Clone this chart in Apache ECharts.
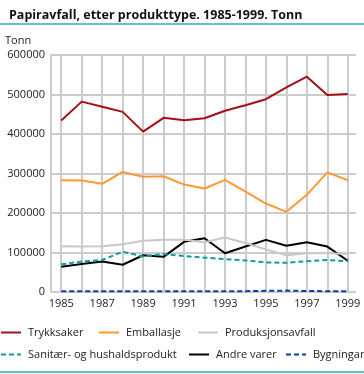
<!DOCTYPE html>
<html><head><meta charset="utf-8">
<script src="https://cdn.jsdelivr.net/npm/echarts@6/dist/echarts.min.js"></script>
<style>html,body{margin:0;padding:0;background:#fff}#c{width:364px;height:374px}</style>
</head><body><div id="c"></div>
<script>
var years = [1985,1986,1987,1988,1989,1990,1991,1992,1993,1994,1995,1996,1997,1998,1999];
var yearLabels = [1985,1987,1989,1991,1993,1995,1997,1999];
var yTicks = [0,100000,200000,300000,400000,500000,600000];
var trykksaker = [434000,482000,469000,456000,406000,441000,435000,440000,459000,473000,488000,518000,545000,499000,501000];
var emballasje = [283000,282000,274000,304000,292000,293000,272000,262000,284000,254000,224000,203000,246000,303000,283000];
var produksjon = [116000,115000,116000,121000,130000,132000,132000,126000,138000,124000,108000,93000,98000,98000,96000];
var sanitaer = [70000,77000,81000,102000,90000,96000,91000,87000,83000,80000,75000,74000,78000,81000,78000];
var andre = [64000,71000,77000,69000,93000,89000,127000,136000,98000,115000,132000,117000,126000,115000,79000];
var bygningar = [2000,2000,2000,2000,2000,2000,2000,2000,2000,2000,3000,3500,2500,2000,2000];
var names = ['Trykksaker','Emballasje','Produksjonsavfall','Sanitær- og hushaldsprodukt','Andre varer','Bygningar'];
var colors = ['#a50f15','#ff9933','#c8c8c8','#109c9c','#000000','#0a3fa8'];
var dashed = [false,false,false,true,false,true];
var values = [trykksaker,emballasje,produksjon,sanitaer,andre,bygningar];

var FONT = 'Open Sans';
function pairs(v){ return v.map(function(y,i){ return [years[i], y]; }); }
var series = values.map(function(v,i){
  return {name:names[i], type:'line', data:pairs(v), symbol:'none', smooth:false,
    lineStyle:{color:colors[i], width:2, type: dashed[i] ? [5,3] : 'solid'},
    itemStyle:{color:colors[i]}, z: 10 - i};
});
var legendPos = [[0,327],[98,327],[197,327],[0,349],[188,349],[285,349]];
var legends = names.map(function(n,i){
  return {data:[n], left:legendPos[i][0], top:legendPos[i][1], itemWidth:20, itemHeight:10, itemGap:0,
    padding:0, selectedMode:false, itemStyle:{opacity:0}, lineStyle:{width:2},
    textStyle:{fontFamily:FONT, fontSize:11, color:'#222', padding:[0,0,0,2]}};
});
var chart = echarts.init(document.getElementById('c'), null, {renderer:'canvas'});
chart.setOption({
  animation:false,
  color:colors,
  title:{text:'Papiravfall, etter produkttype. 1985-1999. Tonn', left:4, top:4,
    textStyle:{fontFamily:FONT, fontSize:12.5, fontWeight:'bold', color:'#111'}},
  graphic:[
    {type:'rect', shape:{x:0,y:23,width:364,height:2}, style:{fill:'#5fc4c2'}},
    {type:'rect', shape:{x:0,y:371,width:364,height:2}, style:{fill:'#5fc4c2'}},
    {type:'text', left:5, top:35, style:{text:'Tonn', font:'11px "Open Sans"', fill:'#222'}}
  ],
  legend:legends,
  grid:{left:51, right:8, top:55, bottom:82, containLabel:false},
  xAxis:{type:'value', min:1984.5, max:1999.4,
    axisLine:{show:false},
    axisTick:{show:false, customValues:years},
    axisLabel:{customValues:yearLabels, fontFamily:FONT, fontSize:11, color:'#222', margin:6,
      formatter:function(v){return String(v);}},
    splitLine:{show:true, lineStyle:{color:'#cccccc', width:2}}},
  yAxis:{type:'value', min:0, max:600000, interval:100000,
    axisLine:{show:true, lineStyle:{color:'#cccccc', width:2}},
    axisTick:{show:false},
    axisLabel:{fontFamily:FONT, fontSize:11, color:'#222', margin:6,
      formatter:function(v){return String(v);}},
    splitLine:{show:true, lineStyle:{color:'#cccccc', width:2}}},
  series:series
});
</script></body></html>
